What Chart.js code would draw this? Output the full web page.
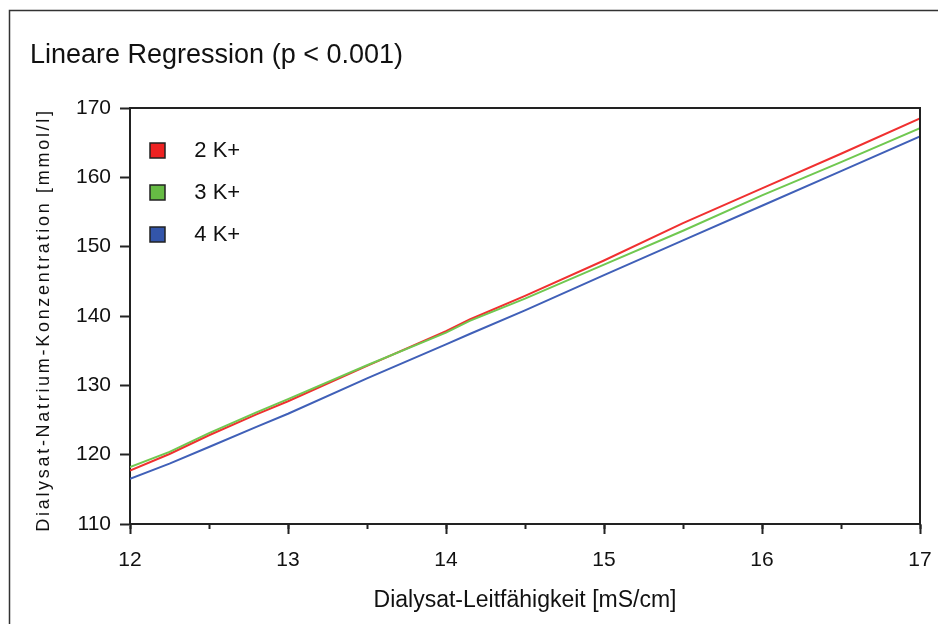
<!DOCTYPE html>
<html>
<head>
<meta charset="utf-8">
<script src="https://cdn.jsdelivr.net/npm/chart.js@4"></script>
<style>
  html, body { margin: 0; padding: 0; background: #fff; }
  canvas { display: block; }
</style>
</head>
<body>
<canvas id="c" width="938" height="624"></canvas>
<script>
// ---- data ----
const xValues = [12, 12.25, 12.5, 12.8, 13, 13.5, 14, 14.15, 14.5, 15, 15.5, 16, 16.5, 17];
const k2Values = [117.7, 120.1, 122.8, 125.8, 127.7, 132.8, 137.8, 139.5, 142.9, 148.0, 153.4, 158.4, 163.4, 168.5];
const k3Values = [118.2, 120.4, 123.1, 126.1, 128.0, 132.9, 137.6, 139.3, 142.5, 147.4, 152.3, 157.4, 162.2, 167.1];
const k4Values = [116.5, 118.7, 121.1, 124.0, 125.9, 131.0, 135.9, 137.4, 140.8, 145.9, 150.9, 155.9, 160.9, 165.9];
const seriesLabels = ['2 K+', '3 K+', '4 K+'];
const chartTitle = 'Lineare Regression (p < 0.001)';
const xTitle = 'Dialysat-Leitfähigkeit [mS/cm]';
const yTitle = 'Dialysat-Natrium-Konzentration [mmol/l]';
const xMin = 12, xMax = 17, yMin = 110, yMax = 170;

const FONT = "'Liberation Sans', Arial, sans-serif";
const toPts = (vals) => xValues.map((x, i) => ({ x: x, y: vals[i] }));

const framePlugin = {
  id: 'frame',
  afterDraw(chart) {
    const ctx = chart.ctx;
    const a = chart.chartArea;
    ctx.save();
    // outer box (left + top)
    ctx.strokeStyle = '#333';
    ctx.lineWidth = 1.5;
    ctx.beginPath();
    ctx.moveTo(9.5, chart.height);
    ctx.lineTo(9.5, 10.5);
    ctx.lineTo(chart.width, 10.5);
    ctx.stroke();
    // plot frame top + right
    ctx.strokeStyle = '#222';
    ctx.lineWidth = 2;
    ctx.beginPath();
    ctx.moveTo(a.left, a.top);
    ctx.lineTo(a.right, a.top);
    ctx.lineTo(a.right, a.bottom);
    ctx.stroke();
    // rotated y-axis title
    ctx.translate(44, (a.top + a.bottom) / 2 + 4);
    ctx.rotate(-Math.PI / 2);
    ctx.font = "18px " + FONT;
    try { ctx.letterSpacing = '2.7px'; } catch (e) {}
    ctx.fillStyle = '#111';
    ctx.textAlign = 'center';
    ctx.textBaseline = 'middle';
    ctx.fillText(yTitle, 0, 0);
    ctx.restore();
  }
};

new Chart(document.getElementById('c'), {
  type: 'line',
  data: {
    datasets: [
      { label: seriesLabels[0], data: toPts(k2Values), borderColor: '#f03030', backgroundColor: '#ee2222', borderWidth: 2, pointRadius: 0, order: 1 },
      { label: seriesLabels[1], data: toPts(k3Values), borderColor: '#70c850', backgroundColor: '#66bb44', borderWidth: 2, pointRadius: 0, order: 0 },
      { label: seriesLabels[2], data: toPts(k4Values), borderColor: '#4060b8', backgroundColor: '#3355aa', borderWidth: 2, pointRadius: 0, order: 2 }
    ]
  },
  options: {
    responsive: false,
    animation: false,
    layout: { padding: { left: 30, right: 18, top: 0, bottom: 0 } },
    plugins: {
      title: {
        display: true,
        text: chartTitle,
        align: 'start',
        color: '#111',
        font: { family: FONT, size: 27, weight: 'normal', lineHeight: 1.2 },
        padding: { top: 39, bottom: 36.6 }
      },
      legend: {
        position: 'chartArea',
        align: 'start',
        title: { display: true, text: '', font: { size: 10, lineHeight: 1.2 }, padding: { top: 107.5, bottom: 0 } },
        labels: {
          boxWidth: 15,
          boxHeight: 15,
          padding: 20,
          color: '#111',
          font: { family: FONT, size: 22 },
          generateLabels(chart) {
            const items = Chart.defaults.plugins.legend.labels.generateLabels(chart);
            return items
              .sort((p, q) => p.datasetIndex - q.datasetIndex)
              .map(l => Object.assign({}, l, {
                text: '   ' + l.text,
                fillStyle: chart.data.datasets[l.datasetIndex].backgroundColor,
                strokeStyle: '#222',
                lineWidth: 1.5
              }));
          }
        }
      },
      tooltip: { enabled: false }
    },
    scales: {
      x: {
        type: 'linear',
        position: 'bottom',
        min: xMin, max: xMax,
        afterFit(s) { s.height = 100; s.paddingLeft = 0; s.paddingRight = 0; },
        border: { display: true, color: '#222', width: 2 },
        grid: { drawOnChartArea: false, drawTicks: true, tickLength: 5, tickColor: '#222', tickWidth: 2 },
        ticks: {
          stepSize: 0.5,
          autoSkip: false,
          maxRotation: 0,
          padding: 19,
          color: '#111',
          font: { family: FONT, size: 21 },
          callback: (v) => Number.isInteger(v) ? String(v) : ''
        },
        title: {
          display: true,
          text: xTitle,
          color: '#111',
          font: { family: FONT, size: 23, lineHeight: 1.2 },
          padding: { top: 0, bottom: 9.5 }
        }
      },
      xMajor: {
        type: 'linear',
        axis: 'x',
        position: { y: yMin },
        min: xMin, max: xMax,
        border: { display: false },
        grid: { drawOnChartArea: false, drawTicks: true, tickLength: 10, tickColor: '#222', tickWidth: 2 },
        ticks: { display: false, stepSize: 1 }
      },
      y: {
        type: 'linear',
        position: 'left',
        min: yMin, max: yMax,
        afterFit(s) { s.width = 100; },
        border: { display: true, color: '#222', width: 2 },
        grid: { drawOnChartArea: false, drawTicks: true, tickLength: 10, tickColor: '#222', tickWidth: 2 },
        ticks: {
          stepSize: 10,
          padding: 9,
          color: '#111',
          font: { family: FONT, size: 21 }
        },
        title: { display: false }
      }
    }
  },
  plugins: [framePlugin]
});
</script>
</body>
</html>
